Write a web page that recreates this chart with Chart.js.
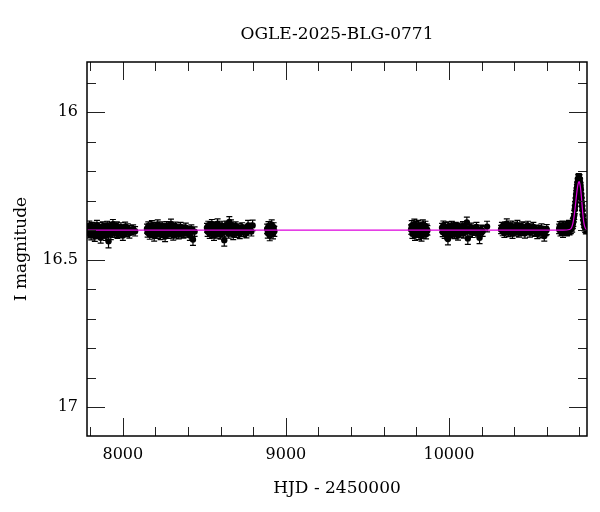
<!DOCTYPE html>
<html>
<head>
<meta charset="utf-8">
<script src="https://cdn.jsdelivr.net/npm/chart.js@4.4.1/dist/chart.umd.min.js"></script>
<style>
  html, body { margin: 0; padding: 0; background: #fff; }
  #wrap { width: 600px; height: 512px; }
</style>
</head>
<body>
<div id="wrap"><canvas id="lc"></canvas></div>
<script>
const chartTitle = 'OGLE-2025-BLG-0771';
const xLabel = 'HJD - 2450000';
const yLabel = 'I magnitude';

const xMin = 7780, xMax = 10847;
const yMin = 15.83, yMax = 17.098;
const xTicks = [8000, 9000, 10000];
const xMinor = [7800, 8200, 8400, 8600, 8800, 9200, 9400, 9600, 9800, 10200, 10400, 10600, 10800];
const yTicks = [16, 16.5, 17];
const yMinor = [15.9, 16.1, 16.2, 16.3, 16.4, 16.6, 16.7, 16.8, 16.9];

// observing seasons: [hjd, I mag, error]
const s1 = [[7786,16.398,.015],[7790,16.412,.014],[7794,16.385,.016],[7798,16.404,.015],[7802,16.391,.014],[7806,16.417,.016],[7810,16.402,.015],[7815,16.388,.014],[7819,16.409,.016],[7823,16.396,.015],[7828,16.421,.017],[7832,16.393,.014],[7837,16.405,.015],[7841,16.383,.016],[7846,16.414,.015],[7850,16.399,.014],[7855,16.390,.015],[7859,16.408,.016],[7864,16.426,.018],[7868,16.395,.014],[7873,16.403,.015],[7877,16.387,.015],[7882,16.411,.016],[7886,16.400,.014],[7891,16.392,.015],[7895,16.419,.016],[7900,16.397,.015],[7904,16.384,.014],[7909,16.407,.015],[7912,16.438,.022],[7917,16.394,.015],[7921,16.401,.014],[7926,16.416,.016],[7930,16.389,.015],[7935,16.405,.015],[7939,16.380,.016],[7944,16.398,.014],[7949,16.410,.015],[7953,16.392,.015],[7958,16.403,.016],[7963,16.386,.014],[7967,16.413,.015],[7972,16.399,.015],[7977,16.395,.014],[7982,16.408,.016],[7988,16.390,.015],[7994,16.402,.015],[8000,16.418,.017],[8007,16.396,.014],[8014,16.388,.015],[8022,16.406,.016],[8030,16.394,.015],[8040,16.411,.016],[8051,16.400,.015],[8063,16.397,.015],[8075,16.404,.016]];
const s2 = [[8148,16.395,.015],[8152,16.408,.016],[8156,16.386,.014],[8160,16.401,.015],[8165,16.415,.016],[8169,16.392,.015],[8174,16.404,.014],[8178,16.384,.016],[8183,16.410,.015],[8187,16.398,.014],[8192,16.420,.017],[8196,16.389,.015],[8201,16.403,.015],[8205,16.396,.014],[8210,16.412,.016],[8214,16.381,.016],[8219,16.399,.015],[8223,16.407,.015],[8228,16.391,.014],[8232,16.416,.016],[8237,16.402,.015],[8241,16.387,.015],[8246,16.409,.016],[8250,16.397,.014],[8255,16.393,.015],[8259,16.422,.017],[8264,16.400,.015],[8268,16.385,.014],[8273,16.406,.015],[8277,16.394,.016],[8282,16.413,.015],[8286,16.390,.014],[8291,16.401,.015],[8295,16.379,.016],[8300,16.405,.015],[8305,16.396,.015],[8309,16.418,.016],[8314,16.392,.014],[8318,16.403,.015],[8323,16.388,.015],[8328,16.410,.016],[8333,16.399,.014],[8338,16.395,.015],[8343,16.414,.016],[8348,16.401,.015],[8354,16.389,.015],[8360,16.407,.016],[8366,16.396,.014],[8372,16.412,.015],[8379,16.400,.015],[8386,16.392,.016],[8394,16.409,.015],[8402,16.403,.016],[8411,16.418,.017],[8420,16.397,.015],[8430,16.432,.020],[8440,16.405,.016]];
const s3 = [[8516,16.392,.015],[8520,16.405,.016],[8524,16.384,.014],[8528,16.398,.015],[8533,16.412,.016],[8537,16.389,.015],[8541,16.401,.014],[8546,16.380,.016],[8550,16.409,.015],[8554,16.395,.014],[8559,16.418,.017],[8563,16.387,.015],[8568,16.400,.015],[8572,16.393,.014],[8577,16.411,.016],[8581,16.378,.016],[8586,16.397,.015],[8590,16.406,.015],[8595,16.390,.014],[8599,16.415,.016],[8604,16.401,.015],[8608,16.385,.015],[8613,16.408,.016],[8617,16.396,.014],[8622,16.434,.020],[8626,16.386,.016],[8631,16.399,.015],[8635,16.383,.014],[8640,16.405,.015],[8644,16.393,.016],[8649,16.412,.015],[8653,16.372,.018],[8658,16.402,.015],[8663,16.381,.016],[8667,16.404,.015],[8672,16.395,.015],[8677,16.416,.016],[8682,16.391,.014],[8687,16.403,.015],[8692,16.387,.015],[8698,16.409,.016],[8704,16.398,.014],[8710,16.394,.015],[8717,16.413,.016],[8724,16.400,.015],[8732,16.390,.015],[8740,16.406,.016],[8749,16.397,.014],[8758,16.411,.015],[8768,16.385,.018],[8778,16.392,.016],[8788,16.405,.015],[8796,16.384,.018]];
const s4 = [[8885,16.396,.016],[8889,16.410,.017],[8893,16.387,.016],[8897,16.402,.017],[8901,16.418,.018],[8905,16.393,.016],[8909,16.405,.017],[8913,16.382,.017],[8917,16.399,.016],[8921,16.412,.018],[8925,16.391,.016],[8929,16.404,.017]];
const s5 = [[9768,16.398,.016],[9772,16.385,.017],[9776,16.412,.016],[9780,16.393,.017],[9784,16.404,.016],[9788,16.380,.017],[9792,16.418,.017],[9796,16.396,.016],[9800,16.388,.017],[9804,16.409,.016],[9808,16.401,.017],[9812,16.383,.016],[9816,16.415,.017],[9820,16.394,.016],[9824,16.406,.017],[9828,16.389,.016],[9832,16.420,.017],[9836,16.398,.016],[9840,16.382,.017],[9844,16.410,.016],[9848,16.395,.017],[9852,16.403,.016],[9856,16.387,.017],[9860,16.414,.016],[9864,16.397,.017],[9868,16.401,.016]];
const s6 = [[9958,16.392,.015],[9962,16.406,.016],[9966,16.384,.015],[9970,16.399,.014],[9974,16.412,.016],[9978,16.389,.015],[9982,16.402,.015],[9986,16.395,.014],[9990,16.416,.016],[9994,16.430,.020],[9998,16.387,.015],[10002,16.404,.015],[10006,16.393,.014],[10010,16.410,.016],[10014,16.398,.015],[10018,16.385,.015],[10022,16.407,.016],[10026,16.396,.014],[10030,16.391,.015],[10034,16.413,.016],[10038,16.401,.015],[10042,16.388,.014],[10047,16.405,.015],[10051,16.394,.016],[10056,16.418,.016],[10060,16.399,.015],[10065,16.390,.014],[10070,16.408,.015],[10075,16.397,.016],[10080,16.403,.015],[10086,16.386,.015],[10091,16.411,.016],[10097,16.400,.014],[10103,16.393,.015],[10110,16.374,.018],[10116,16.428,.020],[10122,16.396,.015],[10129,16.405,.016],[10136,16.391,.015],[10144,16.409,.016],[10152,16.398,.015],[10160,16.402,.016],[10169,16.389,.015],[10178,16.407,.016],[10188,16.426,.020],[10198,16.399,.016],[10207,16.404,.017],[10234,16.388,.018]];
const s7 = [[10320,16.398,.014],[10325,16.389,.015],[10330,16.405,.014],[10335,16.393,.015],[10340,16.410,.015],[10345,16.386,.014],[10350,16.401,.015],[10355,16.378,.016],[10360,16.396,.014],[10365,16.407,.015],[10370,16.391,.015],[10375,16.403,.014],[10380,16.384,.015],[10385,16.398,.015],[10390,16.412,.016],[10395,16.394,.014],[10400,16.400,.015],[10405,16.388,.015],[10410,16.406,.014],[10415,16.395,.015],[10420,16.383,.016],[10425,16.399,.014],[10430,16.409,.015],[10436,16.392,.015],[10442,16.402,.014],[10448,16.387,.015],[10454,16.404,.015],[10460,16.396,.014],[10466,16.411,.016],[10472,16.390,.015],[10478,16.401,.014],[10484,16.385,.015],[10490,16.399,.015],[10497,16.408,.016],[10504,16.393,.014],[10511,16.402,.015],[10518,16.389,.015],[10526,16.405,.016],[10534,16.397,.014],[10542,16.413,.016],[10550,16.400,.015],[10559,16.408,.016],[10568,16.394,.015],[10577,16.410,.016],[10585,16.420,.017],[10594,16.403,.016],[10600,16.398,.017]];
const s8 = [[10676,16.396,.016],[10680,16.388,.017],[10684,16.404,.016],[10688,16.392,.016],[10692,16.399,.017],[10696,16.385,.016],[10700,16.408,.017],[10704,16.394,.016],[10708,16.401,.016],[10712,16.390,.017],[10716,16.398,.016],[10720,16.386,.016],[10724,16.403,.017],[10728,16.393,.016],[10732,16.397,.016],[10736,16.384,.017],[10740,16.400,.016],[10744,16.389,.016],[10748,16.395,.017],[10752,16.386,.016],[10756,16.391,.016],[10760,16.378,.017],
  [10763,16.372,.015],[10766,16.358,.014],[10769,16.349,.015],[10772,16.330,.014],[10774,16.318,.015],[10777,16.305,.014],[10779,16.292,.014],[10781,16.280,.015],[10783,16.271,.014],[10785,16.259,.014],[10787,16.252,.015],[10789,16.240,.014],[10791,16.236,.014],[10793,16.226,.015],[10795,16.229,.014],[10797,16.222,.014],[10799,16.230,.015],[10801,16.226,.014],[10803,16.236,.014],[10805,16.241,.015],[10807,16.252,.014],[10809,16.262,.015],[10811,16.278,.014],[10813,16.290,.015],[10815,16.305,.014],[10817,16.318,.015],[10819,16.332,.014],[10822,16.350,.015],[10825,16.366,.015],[10828,16.378,.014],[10832,16.388,.015],[10836,16.393,.015],[10840,16.397,.016],[10844,16.395,.016]];

// microlensing model curve
const modelHjd = [7780, 10700, 10740, 10752, 10760, 10766, 10772, 10778, 10784, 10790, 10795, 10799, 10803, 10807, 10812, 10817, 10822, 10827, 10833, 10840, 10850];
const modelMag = [16.400, 16.400, 16.398, 16.392, 16.378, 16.360, 16.335, 16.305, 16.275, 16.250, 16.238, 16.236, 16.242, 16.256, 16.283, 16.316, 16.348, 16.372, 16.388, 16.396, 16.399];

const seasons = [s1, s2, s3, s4, s5, s6, s7, s8];
const obs = [].concat(...seasons);

const FONT = 'DejaVu Serif';

// error bars under the points
const errorBars = {
    id: 'errorBars',
    beforeDatasetsDraw(chart) {
        const { ctx, chartArea, scales } = chart;
        ctx.save();
        ctx.beginPath();
        ctx.rect(chartArea.left, chartArea.top, chartArea.width, chartArea.height);
        ctx.clip();
        ctx.strokeStyle = '#000';
        ctx.lineWidth = 1.2;
        ctx.beginPath();
        obs.forEach(([t, m, e]) => {
            const x = scales.x.getPixelForValue(t);
            const y1 = scales.y.getPixelForValue(m - e);
            const y2 = scales.y.getPixelForValue(m + e);
            ctx.moveTo(x, y1); ctx.lineTo(x, y2);
            ctx.moveTo(x - 3, y1); ctx.lineTo(x + 3, y1);
            ctx.moveTo(x - 3, y2); ctx.lineTo(x + 3, y2);
        });
        ctx.stroke();
        ctx.restore();
    }
};

// frame, inward ticks on all four sides, title
const frame = {
    id: 'frame',
    afterDraw(chart) {
        const { ctx, chartArea: a, scales } = chart;
        ctx.save();
        ctx.strokeStyle = '#222';
        ctx.lineWidth = 1;
        ctx.beginPath();
        const xt = (v, len) => {
            const x = Math.round(scales.x.getPixelForValue(v)) + 0.5;
            ctx.moveTo(x, a.bottom); ctx.lineTo(x, a.bottom - len);
            ctx.moveTo(x, a.top); ctx.lineTo(x, a.top + len);
        };
        const yt = (v, len) => {
            const y = Math.round(scales.y.getPixelForValue(v)) + 0.5;
            ctx.moveTo(a.left, y); ctx.lineTo(a.left + len, y);
            ctx.moveTo(a.right, y); ctx.lineTo(a.right - len, y);
        };
        xTicks.forEach(v => xt(v, 18));
        xMinor.forEach(v => xt(v, 9));
        yTicks.forEach(v => yt(v, 18));
        yMinor.forEach(v => yt(v, 9));
        ctx.stroke();
        ctx.strokeStyle = '#000';
        ctx.lineWidth = 1.5;
        ctx.strokeRect(a.left, a.top, a.width, a.height);
        ctx.fillStyle = '#000';
        ctx.font = '17px "' + FONT + '"';
        ctx.textAlign = 'center';
        ctx.textBaseline = 'middle';
        ctx.fillText(chartTitle, (a.left + a.right) / 2, 35);
        ctx.restore();
    }
};

new Chart(document.getElementById('lc'), {
    type: 'scatter',
    data: {
        datasets: [{
            type: 'line',
            data: modelHjd.map((t, i) => ({ x: t, y: modelMag[i] })),
            borderColor: '#dd00dd',
            borderWidth: 1.2,
            pointRadius: 0,
            fill: false,
            tension: 0.3,
            order: 0
        }, {
            data: obs.map(([t, m]) => ({ x: t, y: m })),
            backgroundColor: '#000',
            borderWidth: 0,
            pointRadius: 3.2,
            order: 1
        }]
    },
    options: {
        responsive: true,
        maintainAspectRatio: false,
        animation: false,
        devicePixelRatio: 1,
        layout: { padding: { top: 62, right: 13, left: 0, bottom: 0 } },
        plugins: { legend: { display: false }, tooltip: { enabled: false } },
        scales: {
            x: {
                type: 'linear',
                min: xMin,
                max: xMax,
                afterBuildTicks: s => { s.ticks = xTicks.map(v => ({ value: v })); },
                afterFit: s => { s.height = 76; },
                grid: { display: false, drawTicks: false },
                border: { display: false },
                ticks: { color: '#000', padding: 9, font: { family: FONT, size: 16 }, callback: v => String(v), maxRotation: 0 },
                title: { display: true, text: xLabel, color: '#000', font: { family: FONT, size: 17 }, padding: { top: 0, bottom: 13 } }
            },
            y: {
                type: 'linear',
                reverse: true,
                min: yMin,
                max: yMax,
                afterBuildTicks: s => { s.ticks = yTicks.map(v => ({ value: v })); },
                afterFit: s => { s.width = 87; },
                grid: { display: false, drawTicks: false },
                border: { display: false },
                ticks: { color: '#000', padding: 9, font: { family: FONT, size: 16 }, callback: v => String(v) },
                title: { display: true, text: yLabel, color: '#000', font: { family: FONT, size: 17 }, padding: { top: 11, bottom: 0 } }
            }
        }
    },
    plugins: [errorBars, frame]
});
</script>
</body>
</html>
